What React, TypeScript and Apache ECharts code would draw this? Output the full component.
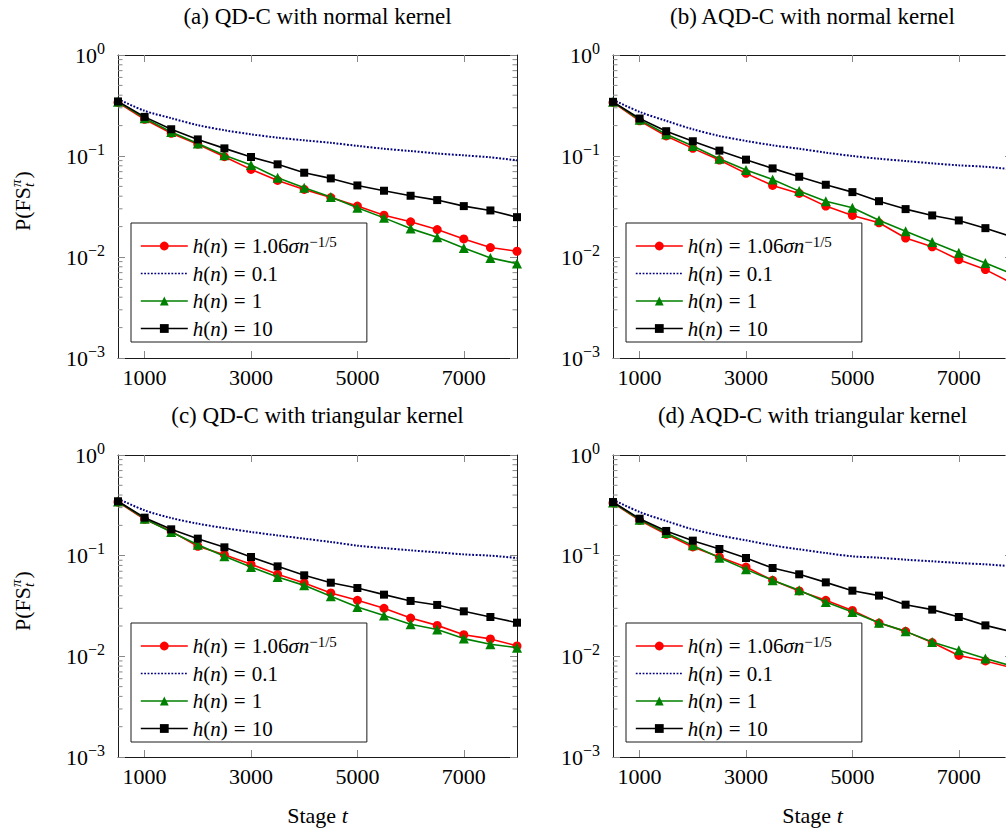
import React, { useEffect, useRef } from 'react';
import * as echarts from 'echarts';

// ---------- data ----------
const stages = [500, 1000, 1500, 2000, 2500, 3000, 3500, 4000, 4500, 5000, 5500, 6000, 6500, 7000, 7500, 8000];
const xTickValues = [1000, 3000, 5000, 7000];
const minorMantissas = [2, 3, 4, 5, 6, 7, 8, 9];
const minorDecades = [0.001, 0.01, 0.1];

const seriesNames = ['h(n) = 1.06σn^(−1/5)', 'h(n) = 0.1', 'h(n) = 1', 'h(n) = 10'];
const panelTitles = [
  '(a) QD-C with normal kernel',
  '(b) AQD-C with normal kernel',
  '(c) QD-C with triangular kernel',
  '(d) AQD-C with triangular kernel',
];

// (a) QD-C, normal kernel
const aRed = [0.339, 0.231, 0.168, 0.131, 0.0985, 0.0737, 0.0573, 0.0467, 0.0388, 0.0319, 0.0259, 0.0223, 0.0187, 0.0151, 0.0124, 0.0114];
const aBlue = [0.366, 0.280, 0.237, 0.202, 0.180, 0.164, 0.152, 0.143, 0.135, 0.126, 0.118, 0.112, 0.106, 0.1015, 0.097, 0.0906];
const aGreen = [0.344, 0.237, 0.173, 0.133, 0.1016, 0.0814, 0.0609, 0.0485, 0.0392, 0.0307, 0.0244, 0.0191, 0.0157, 0.0123, 0.0098, 0.0086];
const aBlack = [0.347, 0.244, 0.184, 0.146, 0.119, 0.0977, 0.0827, 0.0683, 0.060, 0.0511, 0.0453, 0.0404, 0.0366, 0.0319, 0.0289, 0.0248];

// (b) AQD-C, normal kernel
const bRed = [0.339, 0.223, 0.158, 0.119, 0.0912, 0.0673, 0.0511, 0.0426, 0.0319, 0.0258, 0.0218, 0.0154, 0.0126, 0.0094, 0.0075, 0.0055];
const bBlue = [0.360, 0.2735, 0.223, 0.184, 0.158, 0.141, 0.1276, 0.118, 0.108, 0.100, 0.094, 0.0892, 0.0846, 0.0808, 0.0783, 0.0737];
const bGreen = [0.344, 0.228, 0.164, 0.1257, 0.0941, 0.0726, 0.0586, 0.0449, 0.0357, 0.0307, 0.0231, 0.0180, 0.0141, 0.0110, 0.0087, 0.0068];
const bBlack = [0.344, 0.235, 0.176, 0.140, 0.113, 0.092, 0.0754, 0.0623, 0.0519, 0.0439, 0.0357, 0.0298, 0.0258, 0.0230, 0.0193, 0.0158];

// (c) QD-C, triangular kernel
const cRed = [0.341, 0.2296, 0.1745, 0.124, 0.1023, 0.082, 0.0653, 0.0535, 0.0426, 0.036, 0.030, 0.024, 0.0203, 0.0164, 0.0149, 0.0127];
const cBlue = [0.368, 0.282, 0.2366, 0.208, 0.188, 0.172, 0.159, 0.1476, 0.1367, 0.1257, 0.119, 0.113, 0.108, 0.103, 0.100, 0.0948];
const cGreen = [0.345, 0.233, 0.172, 0.1286, 0.0985, 0.0771, 0.0614, 0.0507, 0.0395, 0.0309, 0.0255, 0.0208, 0.0185, 0.0150, 0.0132, 0.0122];
const cBlack = [0.347, 0.2385, 0.1827, 0.1476, 0.121, 0.097, 0.0783, 0.0638, 0.0539, 0.0477, 0.041, 0.0355, 0.0324, 0.028, 0.0246, 0.0216];

// (d) AQD-C, triangular kernel
const dRed = [0.334, 0.2244, 0.163, 0.122, 0.097, 0.0771, 0.0569, 0.0446, 0.036, 0.0286, 0.0214, 0.0177, 0.0137, 0.0102, 0.0090, 0.0077];
const dBlue = [0.360, 0.2716, 0.221, 0.1827, 0.159, 0.142, 0.1266, 0.1156, 0.1063, 0.0985, 0.0955, 0.0912, 0.0879, 0.0846, 0.082, 0.0783];
const dGreen = [0.337, 0.228, 0.168, 0.1266, 0.0955, 0.0731, 0.0569, 0.0453, 0.0347, 0.0276, 0.0216, 0.0177, 0.0139, 0.0115, 0.0095, 0.0080];
const dBlack = [0.341, 0.233, 0.176, 0.141, 0.1165, 0.0948, 0.0754, 0.0653, 0.0543, 0.0449, 0.0401, 0.0326, 0.0291, 0.0246, 0.0203, 0.0175];

const panelData = [
  [aRed, aBlue, aGreen, aBlack],
  [bRed, bBlue, bGreen, bBlack],
  [cRed, cBlue, cGreen, cBlack],
  [dRed, dBlue, dGreen, dBlack],
];

// ---------- styling / layout ----------
const FONT = '"Liberation Serif", "Times New Roman", serif';
const AXIS_COLOR = '#1a1a1a';
const TICK_COLOR = '#888888';
const X_MIN = stages[0];
const X_MAX = stages[stages.length - 1];

const seriesStyles = [
  { color: '#ff0000', symbol: 'circle', symbolSize: 9, dotted: false },
  { color: '#000080', symbol: 'none', symbolSize: 0, dotted: true },
  { color: '#008000', symbol: 'triangle', symbolSize: 10, dotted: false },
  { color: '#000000', symbol: 'rect', symbolSize: 8, dotted: false },
];

const legendRichTexts = [
  '{i|h}{r|(}{i|n}{r|)}{e|=}{r|1.06}{i|σn}{s|−1/5}',
  '{i|h}{r|(}{i|n}{r|)}{e|=}{r|0.1}',
  '{i|h}{r|(}{i|n}{r|)}{e|=}{r|1}',
  '{i|h}{r|(}{i|n}{r|)}{e|=}{r|10}',
];

const panelLayout = [
  { left: 118, top: 55, width: 399, height: 303, cx: 317.5, titleY: 16, legendLeft: 131, legendTop: 223 },
  { left: 613, top: 55, width: 399, height: 303, cx: 812.5, titleY: 16, legendLeft: 626, legendTop: 223 },
  { left: 118, top: 455, width: 399, height: 302, cx: 317.5, titleY: 415, legendLeft: 131, legendTop: 623 },
  { left: 613, top: 455, width: 399, height: 302, cx: 812.5, titleY: 415, legendLeft: 626, legendTop: 623 },
];

function buildOption() {
  const grid: any[] = [];
  const xAxis: any[] = [];
  const yAxis: any[] = [];
  const series: any[] = [];
  const legend: any[] = [];
  const graphic: any[] = [];

  const minorTickValues: number[] = [];
  minorDecades.forEach((d) => minorMantissas.forEach((m) => minorTickValues.push(+(m * d).toPrecision(6))));

  const yLabelFormatter = (v: number) => {
    const e = Math.round(Math.log10(v));
    const s = e < 0 ? '−' + String(-e) : String(e);
    return '{b|10}{s|' + s + '}';
  };

  panelLayout.forEach((p, i) => {
    grid.push({ left: p.left, top: p.top, width: p.width, height: p.height, containLabel: false });

    const xBase = {
      type: 'value',
      gridIndex: i,
      min: X_MIN,
      max: X_MAX,
      splitLine: { show: false },
      axisLine: { show: true, onZero: false, lineStyle: { color: AXIS_COLOR, width: 1 } },
      axisTick: { show: true, inside: true, length: 7, customValues: xTickValues, lineStyle: { color: TICK_COLOR, width: 1 } },
    };
    xAxis.push({
      ...xBase,
      position: 'bottom',
      axisLabel: {
        show: true,
        customValues: xTickValues,
        formatter: (v: number) => String(v),
        margin: 8,
        fontFamily: FONT,
        fontSize: 22,
        color: '#000',
      },
    });
    xAxis.push({ ...xBase, position: 'top', axisLabel: { show: false } });

    const yBase = {
      type: 'log',
      logBase: 10,
      gridIndex: i,
      min: 0.001,
      max: 1,
      splitLine: { show: false },
      axisLine: { show: true, onZero: false, lineStyle: { color: AXIS_COLOR, width: 1 } },
      axisTick: { show: true, inside: true, length: 7, lineStyle: { color: TICK_COLOR, width: 1 } },
    };
    yAxis.push({
      ...yBase,
      position: 'left',
      axisLabel: {
        show: true,
        margin: 13,
        formatter: yLabelFormatter,
        rich: {
          b: { fontFamily: FONT, fontSize: 22, color: '#000', lineHeight: 30, verticalAlign: 'middle' },
          s: { fontFamily: FONT, fontSize: 16, color: '#000', lineHeight: 16, verticalAlign: 'top' },
        },
      },
    });
    yAxis.push({ ...yBase, position: 'right', axisLabel: { show: false } });

    const data = panelData[i];
    data.forEach((vals, k) => {
      const st = seriesStyles[k];
      const s: any = {
        type: 'line',
        name: seriesNames[k],
        xAxisIndex: 2 * i,
        yAxisIndex: 2 * i,
        data: stages.map((x, j) => [x, vals[j]]),
        symbol: st.symbol,
        symbolSize: st.symbolSize,
        showSymbol: st.symbol !== 'none',
        itemStyle: { color: st.color },
        lineStyle: { color: st.color, width: 1.6 },
        emphasis: { disabled: true },
        z: 3 + k,
      };
      if (st.dotted) {
        s.lineStyle = { color: st.color, width: 2, type: [1.8, 1.6], cap: 'butt' };
        s.smooth = 0.3;
      }
      series.push(s);
    });

    series.push({
      type: 'custom',
      name: 'minorTicks' + i,
      xAxisIndex: 2 * i,
      yAxisIndex: 2 * i,
      silent: true,
      z: 1,
      data: minorTickValues.map((v) => [X_MIN, v]),
      renderItem: (params: any, api: any) => {
        const v = api.value(1);
        const l = api.coord([X_MIN, v]);
        const r = api.coord([X_MAX, v]);
        return {
          type: 'group',
          children: [
            { type: 'line', shape: { x1: l[0], y1: l[1], x2: l[0] + 4.5, y2: l[1] }, style: { stroke: TICK_COLOR, lineWidth: 1 } },
            { type: 'line', shape: { x1: r[0] - 4.5, y1: r[1], x2: r[0], y2: r[1] }, style: { stroke: TICK_COLOR, lineWidth: 1 } },
          ],
        };
      },
    });

    legend.push({
      show: true,
      orient: 'vertical',
      left: p.legendLeft,
      top: p.legendTop,
      selectedMode: false,
      itemWidth: 47,
      itemHeight: 11,
      itemGap: 6.5,
      padding: [11, 30, 3, 9],
      borderColor: AXIS_COLOR,
      borderWidth: 1,
      borderRadius: 0,
      backgroundColor: '#ffffff',
      lineStyle: { width: 1.6 },
      data: seriesNames.map((n, k) => (k === 1 ? { name: n, itemStyle: { opacity: 0 } } : { name: n })),
      formatter: (name: string) => legendRichTexts[seriesNames.indexOf(name)],
      textStyle: {
        fontFamily: FONT,
        fontSize: 21,
        color: '#000',
        rich: {
          i: { fontFamily: FONT, fontSize: 21, fontStyle: 'italic', color: '#000', lineHeight: 24, verticalAlign: 'middle' },
          r: { fontFamily: FONT, fontSize: 21, color: '#000', lineHeight: 24, verticalAlign: 'middle' },
          e: { fontFamily: FONT, fontSize: 21, color: '#000', lineHeight: 24, verticalAlign: 'middle', padding: [0, 6, 0, 6] },
          s: { fontFamily: FONT, fontSize: 15, color: '#000', lineHeight: 16, verticalAlign: 'top' },
        },
      },
    });

    // panel title
    graphic.push({
      type: 'text',
      x: p.cx,
      y: p.titleY,
      style: { text: panelTitles[i], fontFamily: FONT, fontSize: 23, fill: '#000', align: 'center', verticalAlign: 'middle' },
    });

    // y axis name (left column only)
    if (p.left < 300) {
      graphic.push({
        type: 'group',
        x: 22.5,
        y: p.top + 146,
        rotation: Math.PI / 2,
        children: [
          { type: 'text', x: -30, y: 0, style: { text: 'P(FS', fontFamily: FONT, fontSize: 22, fill: '#000', align: 'left', verticalAlign: 'middle' } },
          { type: 'text', x: 14, y: -7, style: { text: 'π', fontFamily: FONT, fontSize: 15, fontStyle: 'italic', fill: '#000', align: 'left', verticalAlign: 'middle' } },
          { type: 'text', x: 14, y: 6, style: { text: 't', fontFamily: FONT, fontSize: 15, fontStyle: 'italic', fill: '#000', align: 'left', verticalAlign: 'middle' } },
          { type: 'text', x: 22.5, y: 0, style: { text: ')', fontFamily: FONT, fontSize: 22, fill: '#000', align: 'left', verticalAlign: 'middle' } },
        ],
      });
    }

    // x axis name (bottom row only)
    if (p.top > 300) {
      graphic.push({
        type: 'text',
        x: p.cx,
        y: 815,
        style: {
          text: '{r|Stage }{i|t}',
          align: 'center',
          verticalAlign: 'middle',
          rich: {
            r: { fontFamily: FONT, fontSize: 22, fill: '#000', color: '#000' },
            i: { fontFamily: FONT, fontSize: 22, fontStyle: 'italic', fill: '#000', color: '#000' },
          },
        },
      });
    }
  });

  return {
    animation: false,
    backgroundColor: '#ffffff',
    textStyle: { fontFamily: FONT },
    grid,
    xAxis,
    yAxis,
    legend,
    series,
    graphic,
  };
}

export default function App() {
  const ref = useRef<HTMLDivElement>(null);
  useEffect(() => {
    if (!ref.current) return;
    const chart = echarts.init(ref.current, undefined, { renderer: 'svg' });
    chart.setOption(buildOption() as any);
    return () => chart.dispose();
  }, []);
  return (
    <div style={{ position: 'fixed', left: 0, top: 0, width: 1006, height: 830, overflow: 'hidden', background: '#fff' }}>
      <div ref={ref} style={{ width: 1030, height: 830 }} />
    </div>
  );
}
